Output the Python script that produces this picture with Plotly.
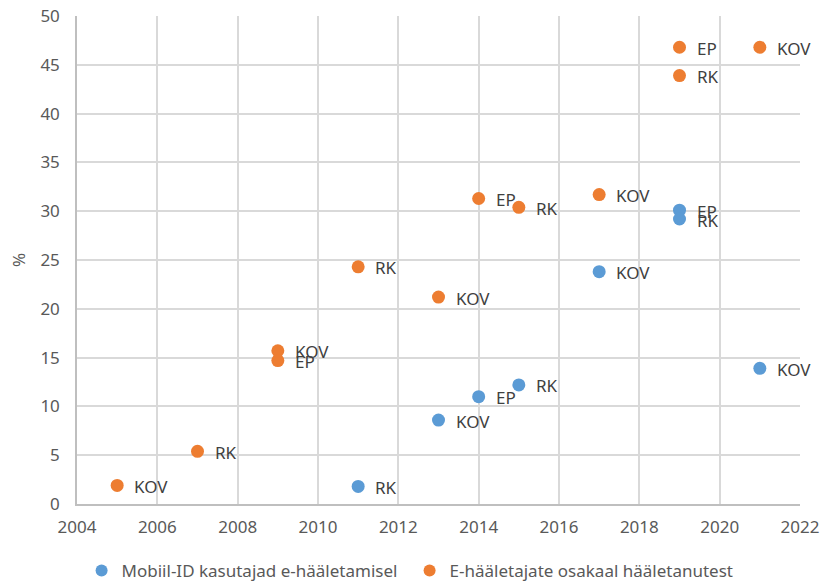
import plotly.graph_objects as go

blue_name = "Mobiil-ID kasutajad e-hääletamisel"
blue_years = [2011, 2013, 2014, 2015, 2017, 2019, 2019, 2021]
blue_vals = [1.8, 8.6, 11.0, 12.2, 23.8, 30.1, 29.2, 13.9]
blue_labels = ["RK", "KOV", "EP", "RK", "KOV", "EP", "RK", "KOV"]

orange_name = "E-hääletajate osakaal hääletanutest"
orange_years = [2005, 2007, 2009, 2009, 2011, 2013, 2014, 2015, 2017, 2019, 2019, 2021]
orange_vals = [1.9, 5.4, 15.7, 14.7, 24.3, 21.2, 31.3, 30.4, 31.7, 46.8, 43.9, 46.8]
orange_labels = ["KOV", "RK", "KOV", "EP", "RK", "KOV", "EP", "RK", "KOV", "EP", "RK", "KOV"]

x_ticks = list(range(2004, 2023, 2))
y_ticks = list(range(0, 51, 5))

BLUE = "#5B9BD5"
ORANGE = "#ED7D31"
FONT = "Noto Sans"
FS = 17

fig = go.Figure()
fig.add_trace(go.Scatter(x=blue_years, y=blue_vals, mode="markers", name=blue_name,
                         marker=dict(color=BLUE, size=13)))
fig.add_trace(go.Scatter(x=orange_years, y=orange_vals, mode="markers", name=orange_name,
                         marker=dict(color=ORANGE, size=13)))

annotations = []
for xs, ys, ls in [(blue_years, blue_vals, blue_labels), (orange_years, orange_vals, orange_labels)]:
    for x, y, t in zip(xs, ys, ls):
        annotations.append(dict(x=x, y=y, text=t, showarrow=False, xanchor="left",
                                yanchor="middle", xshift=15, yshift=-1,
                                font=dict(family=FONT, size=FS, color="#404040")))
annotations.append(dict(x=0, y=0.5, xref="paper", yref="paper", text="%", textangle=-90,
                        showarrow=False, xanchor="center", yanchor="middle", xshift=-59,
                        font=dict(family=FONT, size=FS, color="#595959")))

fig.update_layout(
    width=821, height=583,
    margin=dict(l=77, r=21, t=16, b=79),
    paper_bgcolor="white", plot_bgcolor="white",
    font=dict(family=FONT, size=FS, color="#595959"),
    annotations=annotations,
    showlegend=True,
    legend=dict(orientation="h", x=0.46, xanchor="center", y=12 / 583, yref="container",
                yanchor="middle",
                font=dict(family=FONT, size=FS, color="#595959"), itemsizing="constant",
                traceorder="normal", entrywidth=283),
    xaxis=dict(range=[2004, 2022], tickvals=x_ticks, showgrid=True, gridcolor="#D9D9D9",
               gridwidth=1.5, zeroline=False, showline=True, linecolor="#BFBFBF", linewidth=1.5,
               ticks="", automargin=False, ticklabelstandoff=7,
               tickfont=dict(size=FS, color="#595959")),
    yaxis=dict(range=[0, 50], tickvals=y_ticks, showgrid=True, gridcolor="#D9D9D9",
               gridwidth=1.5, zeroline=False, showline=True, linecolor="#BFBFBF", linewidth=1.5,
               ticks="", automargin=False, ticklabelstandoff=12,
               tickfont=dict(size=FS, color="#595959")),
)

fig.write_html("out.html", config={"displayModeBar": False},
               post_script="document.body.style.margin='0px';")
